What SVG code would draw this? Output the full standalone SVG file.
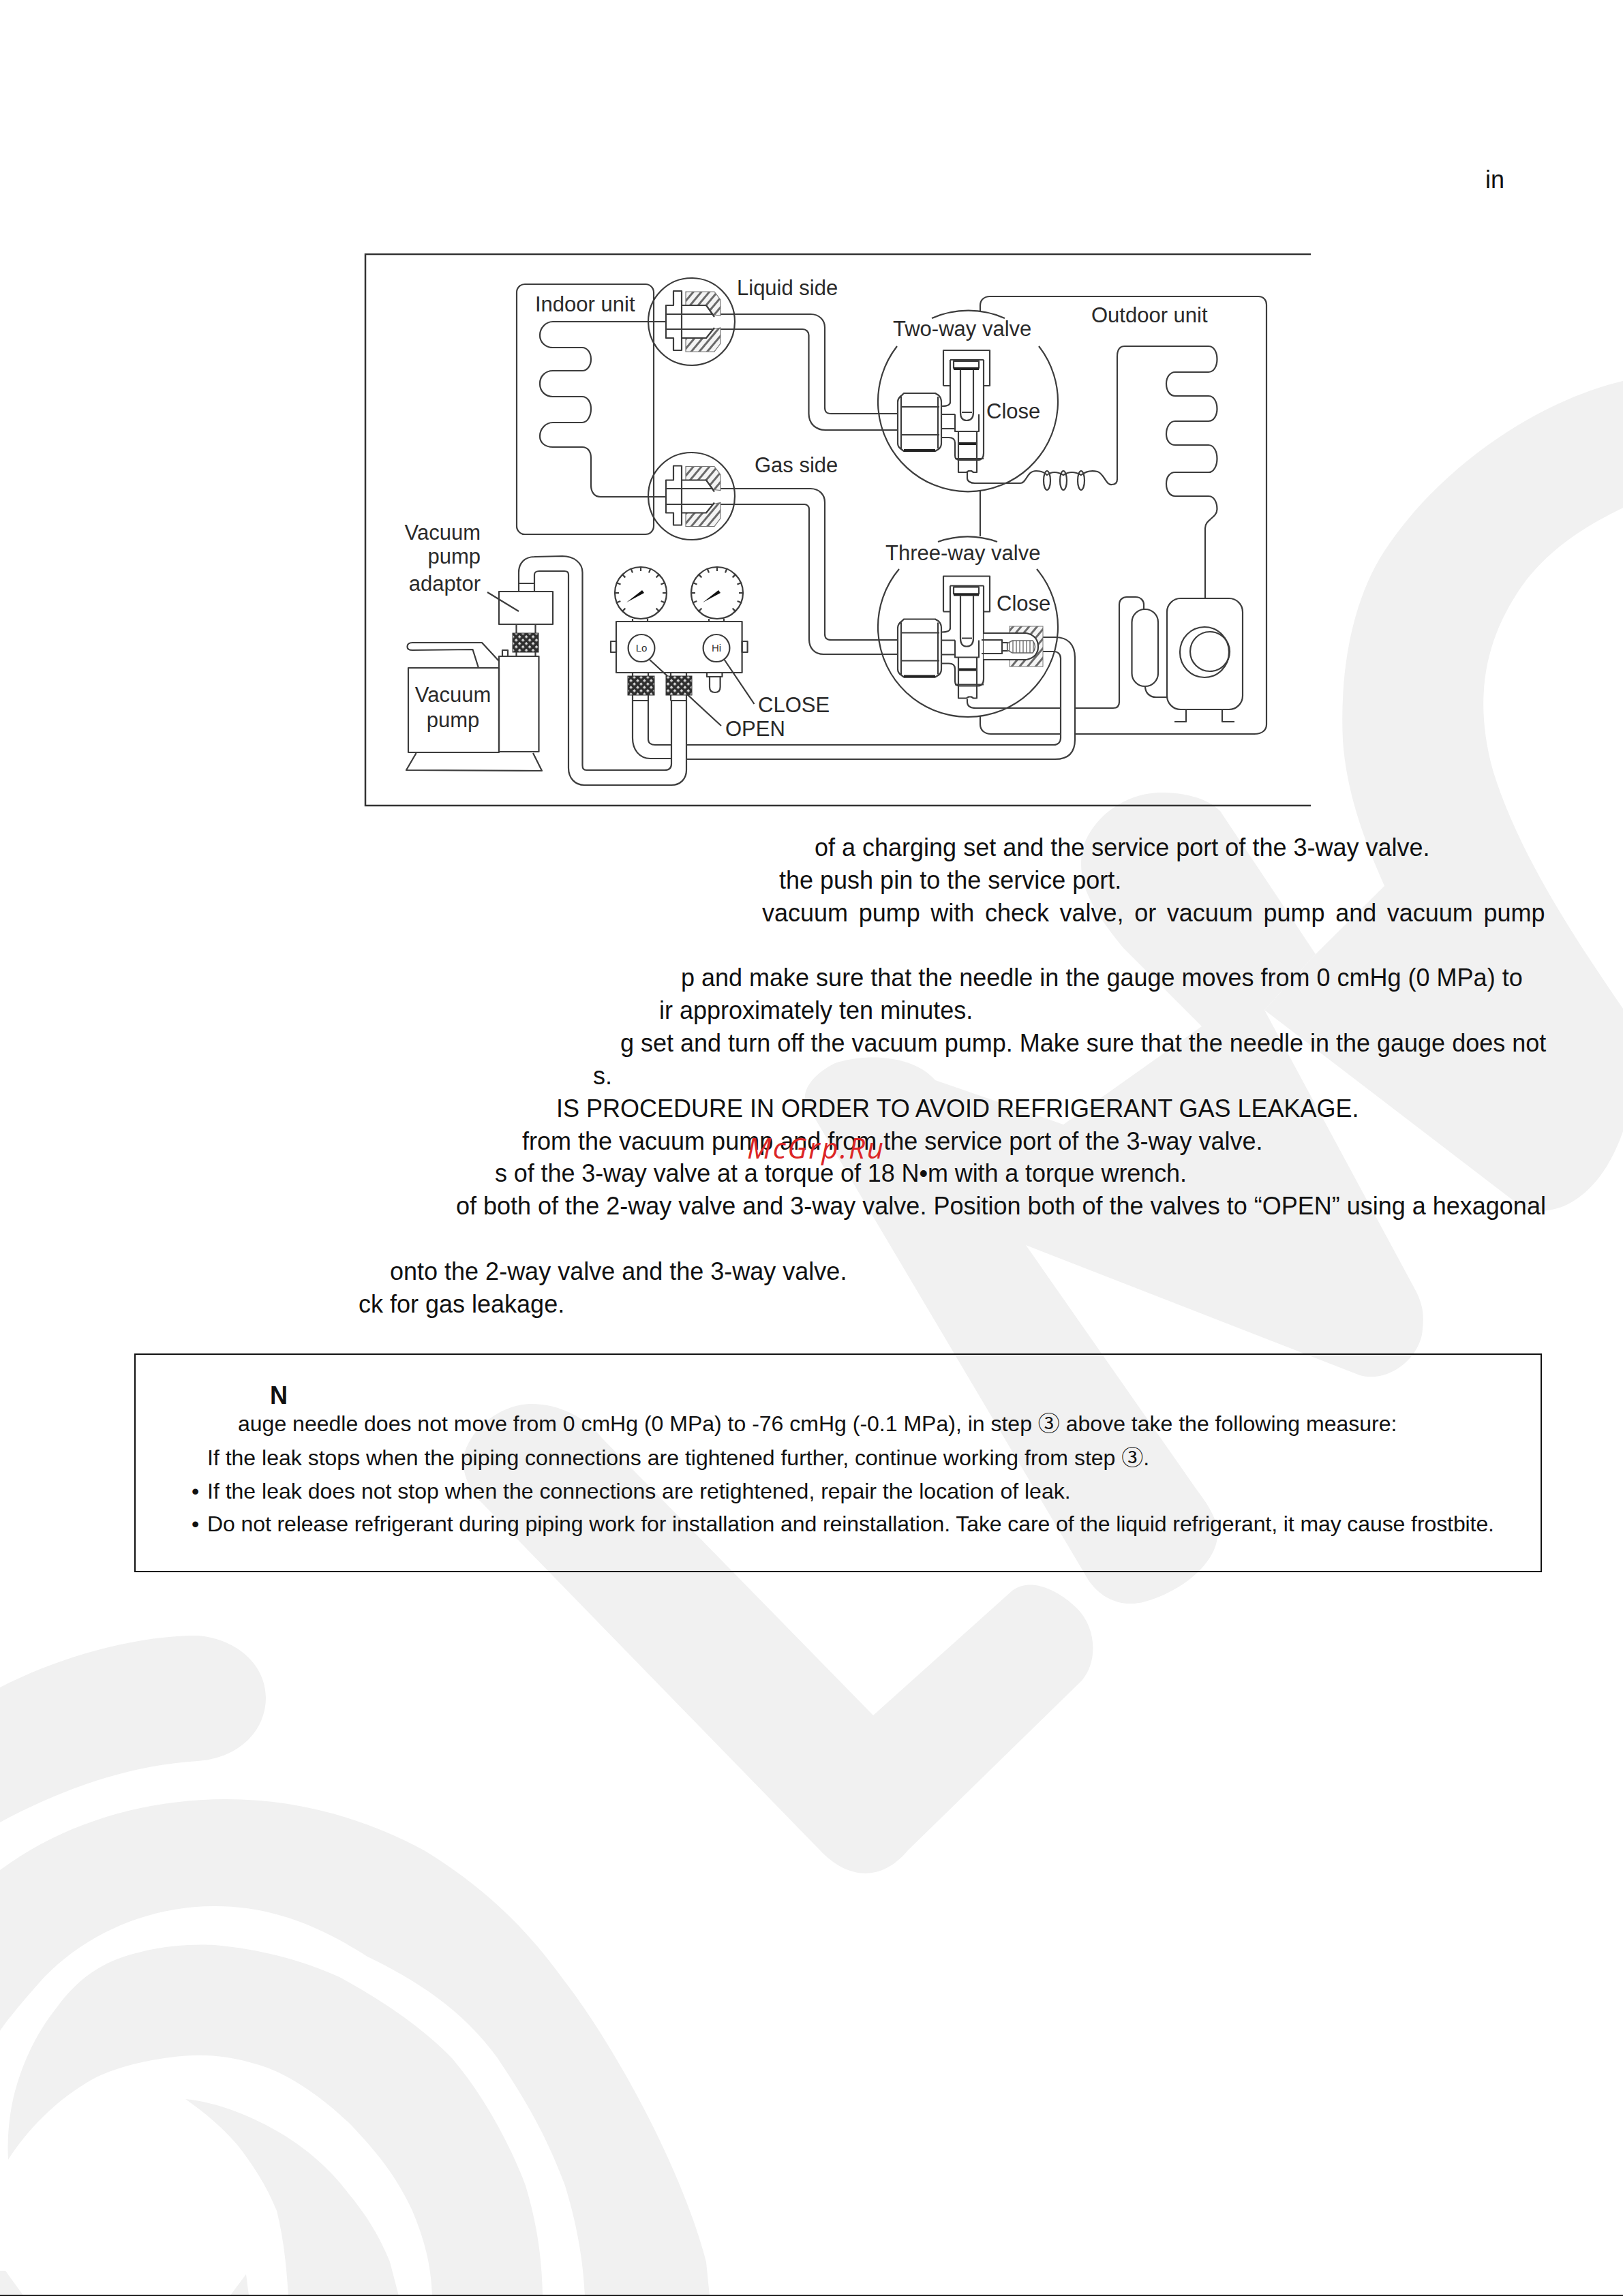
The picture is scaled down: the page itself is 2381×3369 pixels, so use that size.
<svg xmlns="http://www.w3.org/2000/svg" xmlns:xlink="http://www.w3.org/1999/xlink" width="2381" height="3369" viewBox="0 0 2381 3369">
<style>
.wm{fill:#f1f1f1}
.ln{fill:none;stroke:#3c3c3c;stroke-width:2.2;stroke-linejoin:round}
.wf{fill:#fff;stroke:#3c3c3c;stroke-width:2.2}
.th{fill:none;stroke:#222;stroke-width:4}
.lb{font:31px "Liberation Sans",Arial,sans-serif;fill:#2a2a2a}
.sm{font:15px "Liberation Sans",Arial,sans-serif;fill:#333;text-anchor:middle}
.b{font:36px "Liberation Sans",Arial,sans-serif;fill:#111}
.n{font:32px "Liberation Sans",Arial,sans-serif;fill:#111}
.c{font-family:"Noto Sans CJK SC",sans-serif}
</style>
<defs>
<pattern id="hatch" width="9" height="9" patternUnits="userSpaceOnUse" patternTransform="rotate(40)"><rect width="9" height="9" fill="#f4f4f4"/><rect width="3" height="9" fill="#6a6a6a"/></pattern>
<pattern id="knurl" width="7" height="7" patternUnits="userSpaceOnUse" patternTransform="rotate(45)"><rect width="7" height="7" fill="#2e2e2e"/><rect x="1" y="1" width="3.4" height="3.4" fill="#d8d8d8"/></pattern>
<pattern id="rib" width="5" height="5" patternUnits="userSpaceOnUse"><rect width="5" height="5" fill="#fff"/><rect width="2" height="5" fill="#999"/></pattern>
<g id="flare">
<path d="M1006,428H1048L1057,440V463L1047,462L1036,448H1006Z M1006,516H1048L1057,504V481L1047,483L1036,496H1006Z" fill="url(#hatch)" stroke="#777" stroke-width="1.2"/>
<path class="ln" d="M1000,427H988V448H977V496H988V514H1000Z M1000,448H1036L1048,465 M1000,496H1036L1048,481"/>
</g>
<g id="valve">
<path class="ln" d="M1384,566V514H1452V566H1443 M1384,566H1394"/>
<path class="ln" d="M1394,528V590Q1394,596 1382,596 M1443,528V665Q1443,675 1434,675H1408Q1401,675 1401,668V650Q1401,642 1392,642H1382"/>
<path class="ln" d="M1394,528H1443 M1399,530H1436V540H1399Z M1409,543V605Q1409,617 1418,617Q1428,617 1428,605V543 M1411,605H1426"/>
<path class="th" d="M1399,541H1436 M1406,651H1433"/>
<path class="ln" d="M1401,608V633H1436V608 M1406,633V693H1418L1421,691H1425L1428,693H1433V633 M1401,673H1443"/>
<path class="ln" d="M1381,608H1401 M1381,629H1401"/>
<path class="ln" d="M1317,590Q1317,584 1323,580L1326,577H1372L1377,580Q1381,584 1381,590V650Q1381,656 1377,659L1372,662H1326L1322,659Q1317,656 1317,650Z M1322,582V658 M1376,582V658 M1321,597H1378 M1321,638H1378"/>
<path class="th" stroke-width="3" d="M1326,661H1372"/>
</g>
<g id="gauge">
<ellipse cx="0" cy="0" rx="38" ry="38" class="ln"/>
<g id="t0"><path class="ln" d="M0,-38V-32" transform="rotate(-135)"/><path class="ln" d="M0,-38V-32" transform="rotate(-112)"/><path class="ln" d="M0,-38V-32" transform="rotate(-90)"/><path class="ln" d="M0,-38V-32" transform="rotate(-67)"/><path class="ln" d="M0,-38V-32" transform="rotate(-45)"/><path class="ln" d="M0,-38V-32" transform="rotate(-22)"/><path class="ln" d="M0,-38V-32"/><path class="ln" d="M0,-38V-32" transform="rotate(22)"/><path class="ln" d="M0,-38V-32" transform="rotate(45)"/><path class="ln" d="M0,-38V-32" transform="rotate(67)"/><path class="ln" d="M0,-38V-32" transform="rotate(90)"/><path class="ln" d="M0,-38V-32" transform="rotate(112)"/><path class="ln" d="M0,-38V-32" transform="rotate(135)"/></g>
<path d="M-21,14L2,-4L5,0Z" fill="#111"/>
<path class="ln" d="M-12,38V42H10V38"/>
</g>
</defs>

<g id="watermark">
<path class="wm" d="M2381,559C2250,590 2108,690 2030,810C1985,880 1965,980 1970,1087C1975,1160 2000,1230 2031,1300L1930,1400L1855,1482L2235,1773C2290,1790 2350,1750 2381,1660V1480C2320,1390 2230,1260 2190,1130C2160,1020 2180,930 2240,850C2280,800 2330,770 2381,745Z"/>
<path class="wm" d="M1704,1163C1650,1163 1600,1200 1587,1250C1583,1290 1590,1320 1648,1391L1763,1506L1560,1650L1372,1585C1340,1548 1270,1545 1225,1560C1185,1580 1170,1610 1189,1630L1597,2319C1615,2345 1645,2360 1680,2350C1735,2335 1790,2290 1786,2246C1784,2225 1770,2205 1755,2185L1505,1827L1995,2018C2040,2030 2085,1990 2087,1950C2090,1925 2085,1910 2077,1894L1855,1482L1930,1400L1790,1190C1770,1170 1735,1163 1704,1163Z"/>
<path class="wm" d="M780,2060C735,2060 690,2095 680,2137C678,2160 685,2175 697,2195L1202,2714C1240,2755 1290,2765 1332,2715L1587,2466C1610,2440 1610,2390 1580,2360C1550,2330 1510,2315 1485,2334L1281,2517L883,2110C860,2080 820,2060 780,2060Z"/>
<path class="wm" d="M0,2476C90,2430 200,2400 290,2400C350,2405 390,2445 390,2491C390,2540 350,2580 290,2584C190,2590 90,2625 0,2674Z"/>
<path class="wm" d="M0,2744C100,2670 220,2640 332,2640C430,2640 530,2665 622,2715C720,2775 780,2840 829,2908C900,3000 1000,3180 1036,3319L1041,3369H858C855,3310 845,3260 829,3207C800,3130 770,3080 730,3020C680,2950 610,2905 539,2871C460,2820 390,2797 315,2797C220,2797 130,2835 66,2900C30,2940 10,2965 0,2980Z"/>
<path class="wm" d="M12,3169C10,3130 15,3090 25,3058C40,3010 60,2975 83,2946C120,2895 160,2875 207,2864C240,2855 285,2852 315,2854C380,2860 440,2875 498,2901C560,2935 620,2975 663,3020C710,3075 750,3150 771,3207C790,3270 795,3320 796,3369H634C632,3320 622,3285 605,3244C580,3190 550,3155 514,3117C470,3075 420,3040 373,3028C330,3015 290,3013 249,3019C200,3025 150,3040 124,3058C80,3085 40,3125 12,3169Z"/>
<path class="wm" d="M272,3080C320,3085 370,3105 415,3132C460,3160 490,3190 514,3222C545,3260 560,3290 572,3319L585,3369H423C420,3320 415,3280 406,3244C390,3205 370,3175 348,3147C325,3120 300,3100 272,3080Z"/>
<path class="wm" d="M0,3332H8L34,3368H0Z M361,3337L365,3368H338Z"/>
</g>

<g id="figure-frame"><path fill="none" stroke="#333" stroke-width="2.5" d="M1923,373H536V1182H1923"/></g>

<g id="connectors">
<path class="ln" d="M978,472H811C800,472 792,482 792,492C792,502 800,510 811,510H854C862,510 867,518 867,527C867,536 862,544 854,544H811C800,544 792,552 792,563C792,574 800,582 811,582H854C862,582 867,590 867,600C867,610 862,620 854,620H811C800,620 792,630 792,640C792,650 800,656 811,656H854C862,656 867,662 867,672V712C867,722 872,729 881,729H978"/>
<path class="ln" d="M978,461H1189C1202,461 1210,470 1210,480V597C1210,604 1212,607 1220,607H1317 M978,483H1177C1183,483 1186.5,487 1186.5,492V607C1186.5,622 1197,631 1211,631H1317"/>
<path class="ln" d="M978,717H1189C1202,717 1210,726 1210,737V930C1210,936 1212,939 1220,939H1317 M978,740H1180C1184,740 1187,743 1187,747V938C1187,952 1196,960 1208,960H1317"/>
<path class="ln" d="M1419,693V702C1419,706 1424,709 1430,709H1497C1506,709 1506,691 1520,691Q1530,691 1536,697Q1546,689 1560,697Q1572,689 1586,697Q1596,689 1610,692C1620,695 1622,712 1631,711C1637,711 1639,708 1639,703V523C1639,514 1642,508 1650,508H1773C1781,508 1785.5,517 1785.5,527C1785.5,537 1781,546 1773,546H1724C1716,546 1711,554 1711,563C1711,573 1716,581 1724,581H1773C1781,581 1785.5,590 1785.5,600C1785.5,609 1781,618 1773,618H1724C1716,618 1711,627 1711,637C1711,646 1716,653 1724,653H1773C1781,653 1785.5,663 1785.5,673C1785.5,683 1781,693 1773,693H1724C1716,693 1711,700 1711,710C1711,720 1716,728 1724,728H1773C1781,728 1785.5,737 1785.5,747C1785.5,760 1768,762 1768,775V878"/>
<ellipse class="ln" cx="1536" cy="705" rx="5" ry="14"/><ellipse class="ln" cx="1560" cy="705" rx="5" ry="14"/><ellipse class="ln" cx="1586" cy="705" rx="5" ry="14"/>
<path class="ln" d="M1419,1026V1030C1419,1036 1424,1039 1432,1039H1556 M1577,1039H1633C1639,1039 1642,1036 1642,1030V887C1642,880 1647,876 1653,876H1666C1674,876 1678,882 1678,887V895"/>
<path class="ln" d="M1680,1007C1680,1016 1686,1023 1696,1023H1712"/>
<path class="ln" d="M1530,935H1548C1566,935 1577,945 1577,965V1085C1577,1105 1566,1114 1548,1114H1007 M1530,956H1546C1552,956 1556,960 1556,966V1083C1556,1089 1552,1093 1546,1093H1007"/>
<path class="ln" d="M761,867V840C761,826 770,817 784,817L825,816C842,816 854.5,826 854.5,840V1123C854.5,1127 856,1130 860,1130H975C982,1130 985,1127 985,1121V1028 M784,867V843C784,840 787,838 791,838H828C832,838 834,840 834,843V1127C834,1142 844,1152 857,1152H985C998,1152 1007,1143 1007,1130V1028 M761,856H784"/>
<path class="ln" d="M928,1028V1083C928,1100 938,1113 954,1113H985 M951,1028V1085C951,1090 955,1093 961,1093H985"/>
<path class="ln" d="M715,869L761,897 M952,967L1058,1065 M1062,967L1106.5,1033"/>
</g>

<g id="indoor-unit"><rect class="ln" x="758" y="417" width="201" height="367" rx="12"/><text class="lb" x="785" y="457">Indoor unit</text></g>
<g id="liquid-fitting"><ellipse class="ln" cx="1014.5" cy="472" rx="63.5" ry="64"/><use xlink:href="#flare" href="#flare"/><text class="lb" x="1081" y="433">Liquid side</text></g>
<g id="gas-fitting"><ellipse class="ln" cx="1014.5" cy="728" rx="63.5" ry="64"/><use xlink:href="#flare" href="#flare" y="256.5"/><text class="lb" x="1107" y="693">Gas side</text></g>

<g id="outdoor-unit">
<path class="ln" d="M1438,457V448C1438,440 1444,435 1452,435H1846C1854,435 1858,441 1858,447V1063C1858,1071 1852,1077 1840,1077H1577 M1556,1077H1454C1444,1077 1438,1071 1438,1063V1051 M1438,720V787"/>
<text class="lb" x="1601" y="473">Outdoor unit</text>
</g>
<g id="two-way-valve">
<path class="ln" d="M1367,467A132,132 0 0 1 1474,467 M1316,508A132,132 0 1 0 1524,508"/>
<use xlink:href="#valve" href="#valve"/>
<text class="lb" x="1310" y="493">Two-way valve</text><text class="lb" x="1447" y="614">Close</text>
</g>
<g id="three-way-valve">
<path class="ln" d="M1376,795A132,132 0 0 1 1463,795 M1319,835A132,132 0 1 0 1521,835"/>
<use xlink:href="#valve" href="#valve" y="331.5"/>
<rect x="1481" y="919" width="49" height="59" fill="url(#hatch)" stroke="#777" stroke-width="1"/>
<path class="wf" d="M1443,929H1506Q1523,933 1523,949Q1523,964 1506,968H1443"/>
<path class="ln" d="M1440,939H1470V959H1440 M1470,943H1478V955H1470"/>
<path d="M1478,944L1485,940H1515Q1522,949 1515,958H1485L1478,954Z" fill="url(#rib)" stroke="#666" stroke-width="1.5"/>
<text class="lb" x="1299" y="822">Three-way valve</text><text class="lb" x="1462" y="896">Close</text>
</g>
<g id="compressor">
<rect class="ln" x="1660.5" y="894" width="38.5" height="113" rx="19"/>
<rect class="ln" x="1712" y="878" width="111" height="163" rx="20"/>
<ellipse class="ln" cx="1767" cy="957" rx="36" ry="37"/><ellipse class="ln" cx="1775" cy="956" rx="29" ry="29"/>
<path class="ln" d="M1740,1041V1059H1723 M1793,1041V1059H1811"/>
</g>
<g id="vacuum-pump-adaptor">
<path class="ln" d="M757.5,916V929 M785.5,916V929 M757.5,957V963 M785.5,957V963"/>
<rect class="ln" x="732" y="868" width="79" height="48"/>
<rect x="752" y="929" width="38" height="28" fill="url(#knurl)" stroke="#333"/>
<text class="lb" x="705" y="792" text-anchor="end">Vacuum</text><text class="lb" x="705" y="827" text-anchor="end">pump</text><text class="lb" x="705" y="867" text-anchor="end">adaptor</text>
</g>
<g id="vacuum-pump">
<rect class="ln" x="599" y="980" width="133" height="124"/>
<rect class="ln" x="732" y="963" width="58.5" height="140"/>
<path class="ln" d="M610.6,1105L596,1130L795,1131L782,1105 M732,970L707,943H605Q597.5,943 597.5,949Q597.5,954 605,954L693.5,953L702,980 M737,963V954H745V963"/>
<text class="lb" x="664.5" y="1030" text-anchor="middle">Vacuum</text><text class="lb" x="664.5" y="1067" text-anchor="middle">pump</text>
</g>
<g id="manifold">
<use xlink:href="#gauge" href="#gauge" x="940" y="870"/><use xlink:href="#gauge" href="#gauge" x="1052" y="870"/>
<rect class="ln" x="896" y="941" width="8" height="16"/><rect class="ln" x="1088.6" y="941" width="8" height="16"/>
<rect class="ln" x="904" y="912" width="184.6" height="75"/>
<ellipse class="ln" cx="941" cy="951" rx="19.4" ry="20"/><ellipse class="ln" cx="1051" cy="951" rx="19.4" ry="20"/>
<text class="sm" x="941" y="956">Lo</text><text class="sm" x="1051" y="956">Hi</text>
<path class="ln" d="M928,987V992 M951,987V992 M984,987V992 M1007,987V992 M928,1020V1028 M951,1020V1028 M984,1020V1028 M1007,1020V1028 M928,1028H951 M984,1028H1007"/>
<rect x="921" y="992" width="39" height="28" fill="url(#knurl)" stroke="#333"/><rect x="977" y="992" width="38" height="28" fill="url(#knurl)" stroke="#333"/>
<path class="ln" d="M1037,987V993H1059.5V987 M1041,993V1008Q1041,1016 1049,1016Q1056.6,1016 1056.6,1008V993"/>
<text class="lb" x="1112" y="1045">CLOSE</text><text class="lb" x="1064" y="1080">OPEN</text>
</g>

<g id="page-text">
<text class="b" x="2179" y="276">in</text>
<text class="b" x="1195" y="1256">of a charging set and the service port of the 3-way valve.</text>
<text class="b" x="1143" y="1304">the push pin to the service port.</text>
<text class="b" x="1118" y="1352" word-spacing="5.6">vacuum pump with check valve, or vacuum pump and vacuum pump</text>
<text class="b" x="999" y="1447">p and make sure that the needle in the gauge moves from 0 cmHg (0 MPa) to</text>
<text class="b" x="967" y="1495">ir approximately ten minutes.</text>
<text class="b" x="910" y="1543">g set and turn off the vacuum pump. Make sure that the needle in the gauge does not</text>
<text class="b" x="870" y="1591">s.</text>
<text class="b" x="816" y="1639">IS PROCEDURE IN ORDER TO AVOID REFRIGERANT GAS LEAKAGE.</text>
<text class="b" x="766" y="1687">from the vacuum pump and from the service port of the 3-way valve.</text>
<text class="b" x="726" y="1734" textLength="1015">s of the 3-way valve at a torque of 18 N•m with a torque wrench.</text>
<text class="b" x="669" y="1782">of both of the 2-way valve and 3-way valve. Position both of the valves to “OPEN” using a hexagonal</text>
<text class="b" x="572" y="1878">onto the 2-way valve and the 3-way valve.</text>
<text class="b" x="526" y="1926">ck for gas leakage.</text>
<text x="1096" y="1700" font-family="Open Sans, sans-serif" font-style="italic" font-size="42" letter-spacing="2.5" fill="#dc2626">McGrp.Ru</text>
</g>

<g id="note-box">
<rect x="198" y="1987" width="2063" height="319" fill="none" stroke="#111" stroke-width="2"/>
<text x="396" y="2060" font-family="Liberation Sans, Arial, sans-serif" font-weight="700" font-size="36" fill="#111">N</text>
<text class="n" x="349" y="2100">auge needle does not move from 0 cmHg (0 MPa) to -76 cmHg (-0.1 MPa), in step <tspan class="c">③</tspan> above take the following measure:</text>
<text class="n" x="304" y="2150">If the leak stops when the piping connections are tightened further, continue working from step <tspan class="c">③</tspan>.</text>
<text class="n" x="281" y="2199">•</text><text class="n" x="304" y="2199">If the leak does not stop when the connections are retightened, repair the location of leak.</text>
<text class="n" x="281" y="2247">•</text><text class="n" x="304" y="2247" textLength="1888">Do not release refrigerant during piping work for installation and reinstallation. Take care of the liquid refrigerant, it may cause frostbite.</text>
</g>
<rect id="page-edge" x="0" y="3367.5" width="2381" height="1.5" fill="#000"/>
</svg>
